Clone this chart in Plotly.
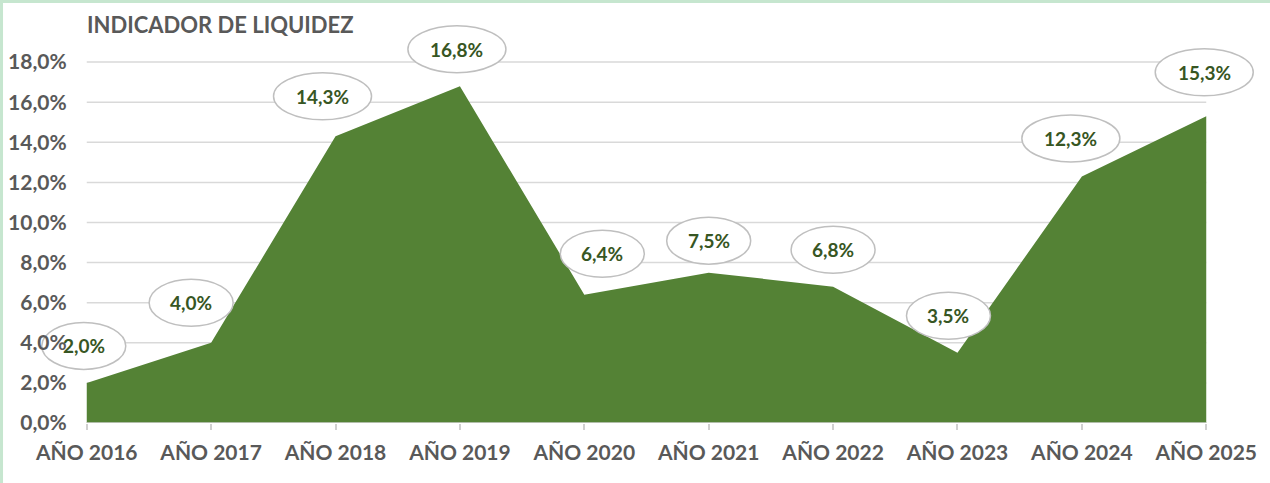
import plotly.graph_objects as go

# ---- data ----
categories = ["AÑO 2016", "AÑO 2017", "AÑO 2018", "AÑO 2019", "AÑO 2020",
              "AÑO 2021", "AÑO 2022", "AÑO 2023", "AÑO 2024", "AÑO 2025"]
values = [2.0, 4.0, 14.3, 16.8, 6.4, 7.5, 6.8, 3.5, 12.3, 15.3]
y_ticks = [0, 2, 4, 6, 8, 10, 12, 14, 16, 18]
y_tick_labels = ["0,0%", "2,0%", "4,0%", "6,0%", "8,0%", "10,0%",
                 "12,0%", "14,0%", "16,0%", "18,0%"]
title_text = "INDICADOR DE LIQUIDEZ"

# ---- style: label bubble offsets (px, dx right, dy up) ----
label_dx = [-3, -20, -13, -3, 18, 0, 0, -9, -11, -2]
label_dy = [37, 40, 40, 37, 41, 32, 37, 37, 38, 44]
# first bubble sits under the axis tick labels (as in the original)
bubble_layer = ["between"] + ["above"] * 9

FONT = "Lato"
GREEN = "#548235"
LABEL_GREEN = "#375623"
GRAY_TEXT = "#595959"
GRID = "#D9D9D9"
AXIS = "#D0D0D0"

x_idx = list(range(len(categories)))
x_first, x_last = x_idx[0], x_idx[-1]

fig = go.Figure()
fig.add_trace(go.Scatter(
    x=x_idx, y=values, mode="lines", fill="tozeroy",
    fillcolor=GREEN, line=dict(width=0, color=GREEN),
    hoverinfo="skip", showlegend=False,
))

shapes = []
annotations = []

# horizontal gridlines spanning the category extent only
for t in y_ticks[1:]:
    shapes.append(dict(type="line", xref="x", yref="y",
                       x0=x_first, x1=x_last, y0=t, y1=t,
                       line=dict(color=GRID, width=1.5), layer="below"))
# category axis line
shapes.append(dict(type="line", xref="x", yref="y",
                   x0=x_first, x1=x_last, y0=0, y1=0,
                   line=dict(color=AXIS, width=1.5), layer="above"))

for i, v in enumerate(values):
    txt = f"{v:.1f}".replace(".", ",") + "%"
    w = 98 if len(txt) >= 5 else 84
    h = 47
    dx, dy = label_dx[i], label_dy[i]
    shapes.append(dict(
        type="circle", xref="x", yref="y",
        xsizemode="pixel", ysizemode="pixel",
        xanchor=i, yanchor=v,
        x0=dx - w / 2, x1=dx + w / 2, y0=dy - h / 2, y1=dy + h / 2,
        fillcolor="white", line=dict(color="#BFBFBF", width=1.5),
        layer=bubble_layer[i],
    ))
    annotations.append(dict(
        x=i, y=v, xref="x", yref="y", text=f"<b>{txt}</b>",
        showarrow=False, xshift=dx, yshift=dy,
        font=dict(family=FONT, size=19, color=LABEL_GREEN),
    ))

# light green frame (top and left edges of the chart)
shapes.append(dict(type="line", xref="paper", yref="paper",
                   x0=-0.05, x1=1.05, y0=1.0255, y1=1.0255,
                   line=dict(color="#C6E6CF", width=3), layer="above"))
shapes.append(dict(type="line", xref="paper", yref="paper",
                   x0=-0.0291, x1=-0.0291, y0=-0.2, y1=1.05,
                   line=dict(color="#C6E6CF", width=3), layer="above"))

fig.update_layout(
    width=1270, height=483,
    margin=dict(l=37, r=14, t=12, b=60, autoexpand=False),
    paper_bgcolor="white", plot_bgcolor="white",
    title=dict(text=f"<b>{title_text}</b>", x=87 / 1270, xanchor="left",
               y=1 - 25 / 483, yanchor="middle",
               font=dict(family=FONT, size=22, color=GRAY_TEXT)),
    shapes=shapes, annotations=annotations,
    showlegend=False,
)
fig.update_xaxes(
    range=[x_first - 0.4, x_last + 0.4],
    tickmode="array", tickvals=x_idx,
    ticktext=[f"<b>{c}</b>" for c in categories],
    showgrid=False, zeroline=False, showline=False,
    ticks="outside", ticklen=6, tickcolor=AXIS, tickwidth=1.5,
    ticklabelstandoff=5,
    tickfont=dict(family=FONT, size=21, color=GRAY_TEXT),
    automargin=False, fixedrange=True,
)
fig.update_yaxes(
    range=[0, 20.5], tickmode="array", tickvals=y_ticks,
    ticktext=[f"<b>{t}</b>" for t in y_tick_labels],
    anchor="free", position=0.4 / 9.8,
    showgrid=False, zeroline=False, showline=False, ticks="",
    ticklabelstandoff=20,
    tickfont=dict(family=FONT, size=21, color=GRAY_TEXT),
    automargin=False, fixedrange=True,
)

fig.write_html("out.html", config={"displayModeBar": False},
               post_script="document.body.style.margin='0';")
